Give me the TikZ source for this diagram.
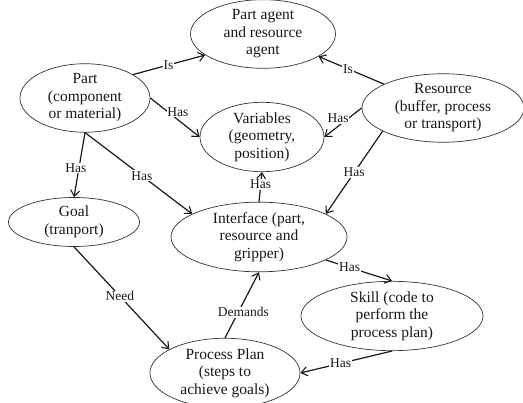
\documentclass[tikz,border=0pt]{standalone}
\usepackage{fontspec}
\setmainfont{Liberation Serif}
\usetikzlibrary{shapes.geometric,arrows.meta}
\begin{document}
\begin{tikzpicture}[x=1pt,y=-1pt,
  concept/.style={ellipse, draw=black!80, line width=0.7pt, inner sep=0pt,
    align=center, text=black!90,
    font=\fontsize{15.5}{17.5}\selectfont},
  rel/.style={line width=1.2pt, black!90, -{Straight Barb[length=6pt,width=9pt,line width=1.1pt]}},
  lbl/.style={fill=white, inner sep=0.8pt, text=black!90,
    font=\fontsize{13.5}{15}\selectfont}]
\useasboundingbox (0,0) rectangle (523,403);
\fill[white] (0,0) rectangle (523,403);

% concepts
\node[concept, minimum width=145pt, minimum height=56pt] (agent) at (263,34)
  {Part agent\\and resource\\agent};
\node[concept, minimum width=130pt, minimum height=60pt] (part) at (85,98)
  {Part\\(component\\or material)};
\node[concept, minimum width=162pt, minimum height=62pt] (res) at (443,108)
  {Resource\\(buffer, process\\or transport)};
\node[concept, minimum width=124pt, minimum height=62pt] (var) at (262,137)
  {Variables\\(geometry,\\position)};
\node[concept, minimum width=131pt, minimum height=49pt] (goal) at (74,222)
  {Goal\\(tranport)};
\node[concept, minimum width=176pt, minimum height=58pt] (iface) at (259,237)
  {Interface (part,\\resource and\\gripper)};
\node[concept, minimum width=182pt, minimum height=53pt] (skill) at (392,316)
  {Skill (code to\\perform the\\process plan)};
\node[concept, minimum width=150pt, minimum height=62pt] (plan) at (225,373)
  {Process Plan\\(steps to\\achieve goals)};

% relations
\draw[rel] (part.26) -- node[lbl, pos=0.49] {Is} (agent.200);
\draw[rel] (res.158) -- node[lbl, pos=0.55] {Is} (agent.338);
\draw[rel] (part.east) -- node[lbl, pos=0.56, yshift=8pt] {Has} (var.west);
\draw[rel] (res.west) -- node[lbl, pos=0.63, yshift=8pt] {Has} (var.east);
\draw[rel] (part.south) -- node[lbl, pos=0.55, xshift=-3pt] {Has} (goal.north);
\draw[rel] (part.south) -- node[lbl, pos=0.53] {Has} (iface.161);
\draw[rel] (res.201) -- node[lbl, pos=0.5] {Has} (iface.19);
\draw[rel] (iface.north) -- node[lbl, pos=0.58] {Has} (var.south);
\draw[rel] (iface.341) -- node[lbl, pos=0.36] {Has} (skill.north);
\draw[rel] (goal.south) -- node[lbl, pos=0.48] {Need} (plan.157);
\draw[rel] (plan.north) -- node[lbl, pos=0.39, xshift=5pt] {Demands} (iface.south);
\draw[rel] (skill.south) -- node[lbl, pos=0.56] {Has} (plan.east);
\end{tikzpicture}
\end{document}
